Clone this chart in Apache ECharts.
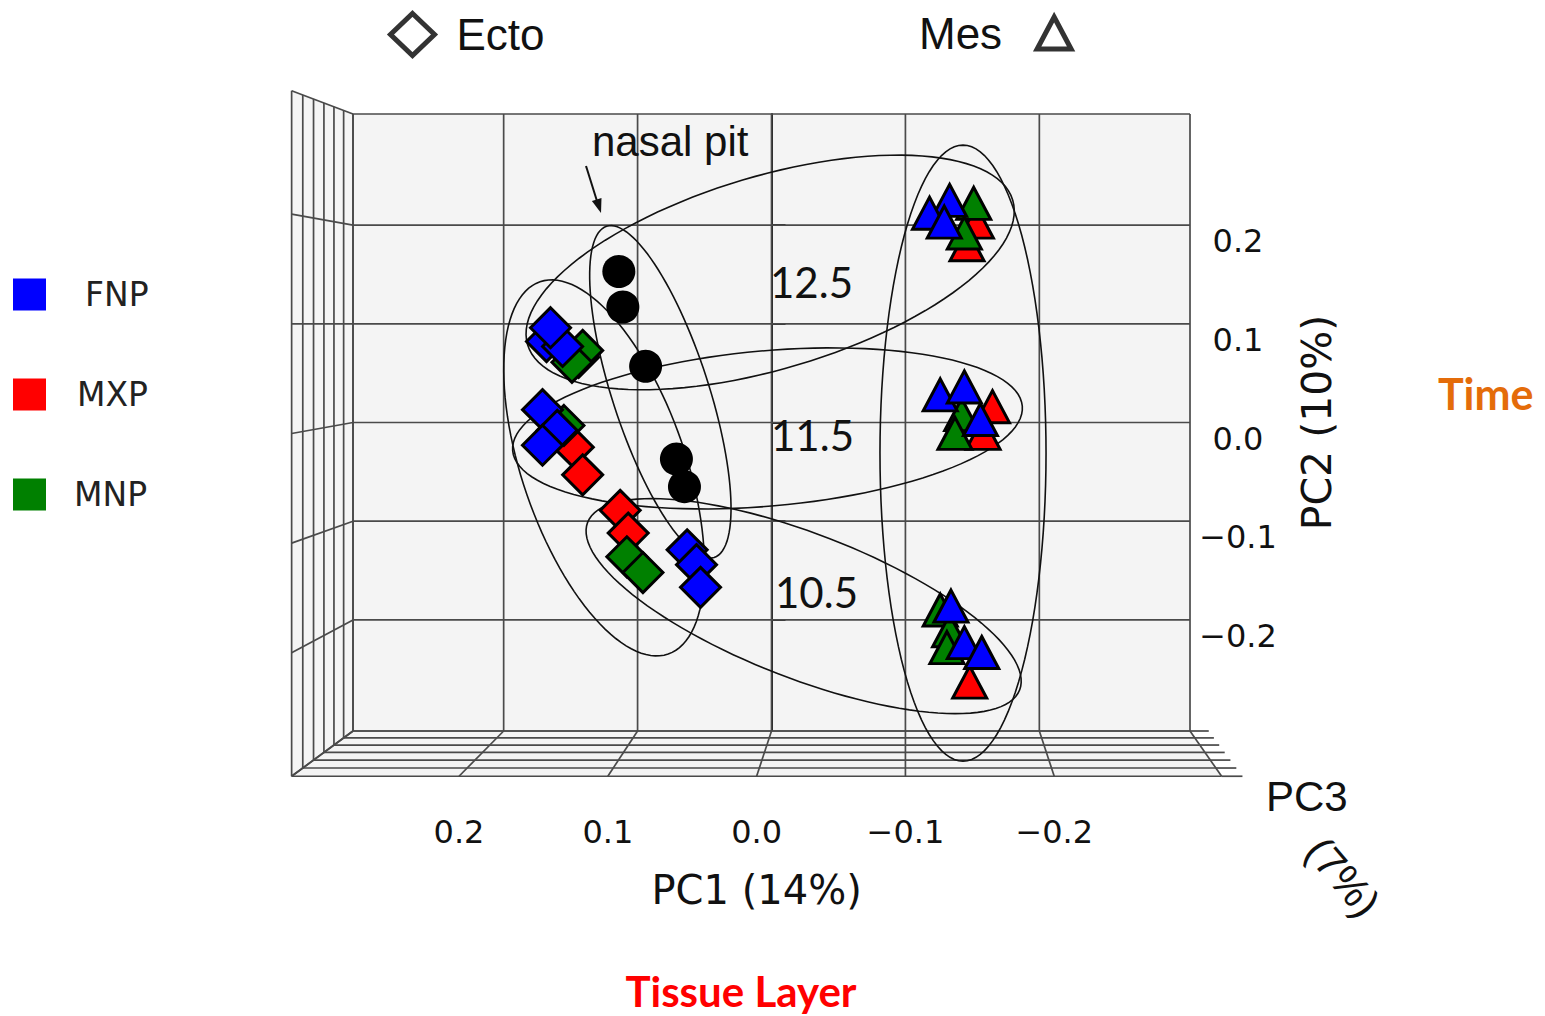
<!DOCTYPE html>
<html>
<head>
<meta charset="utf-8">
<script src="https://cdn.jsdelivr.net/npm/echarts@6/dist/echarts.min.js"></script>
<style>
  html, body { margin: 0; padding: 0; background: #fff; }
  #chart { width: 1545px; height: 1016px; }
</style>
</head>
<body>
<div id="chart"></div>
<script>
// ---- data ----
const pcTicks = [-0.2, -0.1, 0, 0.1, 0.2];               // PC1 / PC2 tick values
const pc3Ticks = [-0.3, -0.2, -0.1, 0, 0.1, 0.2, 0.3];  // depth (PC3) grid levels

// [PC1, PC2]
const nasalPit = [[0.114, 0.153], [0.111, 0.117], [0.094, 0.057], [0.071, -0.037], [0.065, -0.065]];

const ectoMXP = [[0.144, 0.066], [0.148, -0.025], [0.141, -0.053], [0.113, -0.089], [0.107, -0.112]];
const ectoMNP = [[0.141, 0.073], [0.149, 0.061], [0.155, -0.003], [0.108, -0.136], [0.096, -0.152]];
const ectoFNP = [[0.168, 0.082], [0.156, 0.077], [0.165, 0.096], [0.171, 0.013], [0.160, -0.008],
                 [0.171, -0.023], [0.063, -0.129], [0.056, -0.144], [0.053, -0.167]];

const mesMXP = [[-0.153, 0.203], [-0.146, 0.180], [-0.165, 0.016], [-0.158, -0.011], [-0.148, -0.263]];
const mesMNP = [[-0.151, 0.222], [-0.144, 0.192], [-0.142, 0.008], [-0.137, -0.011],
                [-0.126, -0.190], [-0.133, -0.211], [-0.131, -0.228]];
const mesFNP = [[-0.133, 0.225], [-0.118, 0.212], [-0.129, 0.203], [-0.126, 0.028], [-0.144, 0.036],
                [-0.156, 0.003], [-0.134, -0.186], [-0.144, -0.223], [-0.157, -0.233]];

// grouping ellipses: [centre PC1, centre PC2, semi-axis a, semi-axis b, rotation deg]
const ellipses = [
  [0.001, 0.152, 0.189, 0.072, -16.6],   // 12.5
  [0.003, -0.006, 0.191, 0.058, -5],     // 11.5
  [-0.024, -0.186, 0.173, 0.054, 21.2],  // 10.5
  [0.083, 0.031, 0.130, 0.036, 72],      // nasal pit
  [0.125, -0.046, 0.147, 0.061, 71],     // Ecto
  [-0.143, -0.031, 0.230, 0.062, 90]     // Mes
];

const BLUE = '#0000ff', RED = '#ff0000', GREEN = '#008000';

// ---- box / perspective ----
const EDGE = 0.3125;
const VAN = [-0.1, 0.1];
const DEPTH_K = 0.1;
const GRID = { left: 353, top: 114, width: 837, height: 617 };

function project(x, y, z) {
  const t = (z - pc3Ticks[0]) / (pc3Ticks[pc3Ticks.length - 1] - pc3Ticks[0]);
  const s = 1 / (1 - DEPTH_K * t);
  return [VAN[0] + s * (x - VAN[0]), VAN[1] + s * (y - VAN[1])];
}
function toPx(p) {
  return [GRID.left + (EDGE - p[0]) / (2 * EDGE) * GRID.width,
          GRID.top + (EDGE - p[1]) / (2 * EDGE) * GRID.height];
}

const zb = pc3Ticks[0], zf = pc3Ticks[pc3Ticks.length - 1];
const xs = [EDGE].concat(pcTicks, [-EDGE]);
const boxLines = [];
xs.forEach(v => boxLines.push([v, -EDGE, zb, v, EDGE, zb]));
xs.forEach(v => boxLines.push([EDGE, v, zb, -EDGE, v, zb]));
pc3Ticks.forEach(z => boxLines.push([EDGE, -EDGE, z, EDGE, EDGE, z]));
xs.forEach(v => boxLines.push([EDGE, v, zb, EDGE, v, zf]));
pc3Ticks.forEach(z => boxLines.push([EDGE, -EDGE, z, -EDGE, -EDGE, z]));
xs.forEach(v => boxLines.push([v, -EDGE, zb, v, -EDGE, zf]));
pc3Ticks.forEach(z => boxLines.push([-EDGE, -EDGE, z, -EDGE - 0.014, -EDGE, z]));

const faces = [
  [EDGE, -EDGE, EDGE, EDGE],    // left wall
  [EDGE, -EDGE, -EDGE, -EDGE]   // floor
];

const frontTL = toPx(project(EDGE, EDGE, zf));
const frontBR = toPx(project(-EDGE, -EDGE, zf));

const fmt = v => (v < 0 ? '\u2212' : '') + Math.abs(v).toFixed(1);

let chart = echarts.init(document.getElementById('chart'), null, { renderer: 'svg' });

function markerSeries(name, symbol, size, data, color) {
  return {
    name: name, type: 'scatter', xAxisIndex: 0, yAxisIndex: 0,
    symbol: symbol, symbolSize: size, data: data, z: 10,
    itemStyle: { color: color, borderColor: '#000', borderWidth: 3, opacity: 1 },
    emphasis: { disabled: true }
  };
}

let option = {
  animation: false,
  backgroundColor: '#fff',
  grid: [
    { left: GRID.left, top: GRID.top, width: GRID.width, height: GRID.height,
      show: true, backgroundColor: '#f4f4f4', borderWidth: 0 },
    { left: frontTL[0], top: frontTL[1], width: frontBR[0] - frontTL[0], height: frontBR[1] - frontTL[1] }
  ],
  xAxis: [
    { gridIndex: 0, type: 'value', min: -EDGE, max: EDGE, inverse: true, show: false },
    { gridIndex: 1, type: 'value', min: -EDGE, max: EDGE, inverse: true,
      axisLine: { show: false }, axisTick: { show: false }, splitLine: { show: false },
      axisLabel: { customValues: pcTicks, formatter: fmt, margin: 40,
                   fontFamily: 'DejaVu Sans', fontSize: 32, color: '#111' },
      name: 'PC1 (14%)', nameLocation: 'middle', nameGap: 94,
      nameTextStyle: { fontFamily: 'DejaVu Sans', fontSize: 40, color: '#111' } }
  ],
  yAxis: [
    { gridIndex: 0, type: 'value', min: -EDGE, max: EDGE, position: 'right',
      axisLine: { show: true, lineStyle: { color: '#222', width: 2 } },
      axisTick: { show: true, customValues: pcTicks, length: 14, lineStyle: { color: '#222', width: 2 } },
      axisLabel: { customValues: pcTicks, formatter: fmt, margin: 48, align: 'center', verticalAlign: 'top',
                   fontFamily: 'DejaVu Sans', fontSize: 32, color: '#111' },
      splitLine: { show: false },
      name: 'PC2 (10%)', nameLocation: 'middle', nameRotate: 90, nameGap: 106,
      nameTextStyle: { fontFamily: 'DejaVu Sans', fontSize: 41, color: '#111' } },
    { gridIndex: 1, type: 'value', min: -EDGE, max: EDGE, show: false }
  ],
  legend: [
    { data: [{ name: 'FNP', textStyle: { padding: [0, 0, 0, 34] } },
             { name: 'MXP', textStyle: { padding: [0, 0, 0, 26] } },
             { name: 'MNP', textStyle: { padding: [0, 0, 0, 23] } }],
      orient: 'vertical', left: 8, top: 273, itemWidth: 33, itemHeight: 32, itemGap: 67,
      icon: 'rect', selectedMode: false, itemStyle: { borderWidth: 0 },
      textStyle: { fontFamily: 'DejaVu Sans', fontSize: 33, color: '#222' } },
    { data: ['Ecto'], left: 383, top: 6, itemWidth: 44, itemHeight: 42, icon: 'diamond',
      selectedMode: false, itemStyle: { color: '#fff', borderColor: '#000', borderWidth: 5 },
      textStyle: { fontFamily: 'Liberation Sans', fontSize: 44, color: '#111', padding: [0, 0, 0, 17] } },
    { data: ['Mes'], left: 914, top: 6, itemWidth: 34, itemHeight: 32, icon: 'triangle', align: 'right',
      selectedMode: false, itemStyle: { color: '#fff', borderColor: '#000', borderWidth: 5 },
      textStyle: { fontFamily: 'Liberation Sans', fontSize: 44, color: '#111', padding: [0, 30, 0, 0] } }
  ],
  series: [
    { type: 'custom', name: 'faces', xAxisIndex: 0, yAxisIndex: 0, z: 1, silent: true,
      data: faces,
      renderItem: function (params, api) {
        const a = [api.value(0), api.value(1)], b = [api.value(2), api.value(3)];
        const pts = [project(a[0], a[1], zb), project(b[0], b[1], zb),
                     project(b[0], b[1], zf), project(a[0], a[1], zf)].map(p => api.coord(p));
        return { type: 'polygon', shape: { points: pts }, style: { fill: '#f4f4f4', stroke: 'none' } };
      } },
    { type: 'custom', name: 'box', xAxisIndex: 0, yAxisIndex: 0, z: 2, silent: true,
      data: boxLines,
      renderItem: function (params, api) {
        const a = api.coord(project(api.value(0), api.value(1), api.value(2)));
        const b = api.coord(project(api.value(3), api.value(4), api.value(5)));
        return { type: 'line', shape: { x1: a[0], y1: a[1], x2: b[0], y2: b[1] },
                 style: { stroke: '#4a4a4a', lineWidth: 1.7 } };
      } },
    { type: 'custom', name: 'groups', xAxisIndex: 0, yAxisIndex: 0, z: 3, silent: true,
      data: ellipses,
      renderItem: function (params, api) {
        const c = api.coord([api.value(0), api.value(1)]);
        const ra = api.size([api.value(2), 0])[0];
        const rb = api.size([api.value(3), 0])[0];
        const ang = api.value(4) * Math.PI / 180;
        const pts = [];
        for (let i = 0; i < 120; i++) {
          const t = i / 120 * 2 * Math.PI;
          const u = ra * Math.cos(t), v = rb * Math.sin(t);
          pts.push([c[0] + u * Math.cos(ang) - v * Math.sin(ang), c[1] + u * Math.sin(ang) + v * Math.cos(ang)]);
        }
        return { type: 'polygon', shape: { points: pts }, style: { fill: 'none', stroke: '#111', lineWidth: 1.6 } };
      } },
    { name: 'Ecto', type: 'scatter', data: [], symbol: 'diamond',
      itemStyle: { color: '#fff', borderColor: '#000', borderWidth: 5 } },
    { name: 'Mes', type: 'scatter', data: [], symbol: 'triangle',
      itemStyle: { color: '#fff', borderColor: '#000', borderWidth: 5 } },
    { name: 'nasal pit', type: 'scatter', data: nasalPit, symbol: 'circle', symbolSize: 33, z: 10,
      itemStyle: { color: '#000', opacity: 1 }, emphasis: { disabled: true } },
    markerSeries('MXP', 'diamond', [40, 40], ectoMXP, RED),
    markerSeries('MNP', 'diamond', [40, 40], ectoMNP, GREEN),
    markerSeries('FNP', 'diamond', [40, 40], ectoFNP, BLUE),
    markerSeries('MXP', 'triangle', [34, 32], mesMXP, RED),
    markerSeries('MNP', 'triangle', [34, 32], mesMNP, GREEN),
    markerSeries('FNP', 'triangle', [34, 32], mesFNP, BLUE)
  ],
  graphic: [
    { type: 'text', left: 592, top: 120, z: 20,
      style: { text: 'nasal pit', fontFamily: 'Liberation Sans', fontSize: 42, fill: '#111' } },
    { type: 'polyline', z: 20, shape: { points: [[586, 166], [597, 201]] },
      style: { stroke: '#111', lineWidth: 2 } },
    { type: 'polygon', z: 20, shape: { points: [[601, 213], [591.9, 201.1], [601.5, 198.1]] },
      style: { fill: '#111' } },
    { type: 'text', left: 770, top: 261, z: 20,
      style: { text: '12.5', fontFamily: 'Lato', fontSize: 42, fill: '#111' } },
    { type: 'text', left: 771, top: 414, z: 20,
      style: { text: '11.5', fontFamily: 'Lato', fontSize: 42, fill: '#111' } },
    { type: 'text', left: 775, top: 571, z: 20,
      style: { text: '10.5', fontFamily: 'Lato', fontSize: 42, fill: '#111' } },
    { type: 'text', left: 1266, top: 775, z: 20,
      style: { text: 'PC3', fontFamily: 'Liberation Sans', fontSize: 42, fill: '#111' } },
    { type: 'text', x: 1343, y: 877, rotation: -0.87, z: 20,
      style: { text: '(7%)', fontFamily: 'Liberation Sans', fontSize: 42, fill: '#111',
               align: 'center', verticalAlign: 'middle' } },
    { type: 'text', left: 1438, top: 372, z: 20,
      style: { text: 'Time', fontFamily: 'Lato', fontWeight: 'bold', fontSize: 43, fill: '#e46c0a' } },
    { type: 'text', x: 741, y: 991, z: 20,
      style: { text: 'Tissue Layer', fontFamily: 'Lato', fontWeight: 'bold', fontSize: 42, fill: '#ff0000',
               align: 'center', verticalAlign: 'middle' } }
  ]
};

chart.setOption(option);
</script>
</body>
</html>
